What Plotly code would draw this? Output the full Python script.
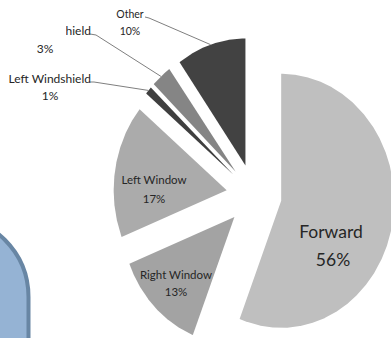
import numpy as np
import plotly.graph_objects as go

# ---- data -------------------------------------------------------------
categories = ["Forward", "Right Window", "Left Window",
              "Left Windshield", "Right Windshield", "Other"]
shares = [56, 13, 17, 1, 3, 10]
pct_labels = ["56%", "13%", "17%", "1%", "3%", "10%"]

# ---- styling ------------------------------------------------------------
W, H = 391, 338
CX, CY = 254.0, 195.0      # pie centre in pixels
RX, RY = 113.0, 127.0      # pixels per unit radius (horizontal / vertical)
PULL = 0.245               # explode distance, fraction of radius
fills = ["#bfbfbf", "#a3a3a3", "#ababab", "#3f3f3f", "#858585", "#424242"]
TEXT = "#262626"
FONT = "Lato"

# label anchors (pixels): name position, percent position, font size, align
label_style = {
    "Forward":          ((331, 234), (333, 262), 17.5, "middle center"),
    "Right Window":     ((176, 276), (176, 293), 11.5, "middle center"),
    "Left Window":      ((154, 181), (154, 200), 11.5, "middle center"),
    "Left Windshield":  ((91, 80), (50, 97), 12, "middle left"),
    "Right Windshield": ((91, 32), (45, 50), 12, "middle left"),
    "Other":            ((130, 15), (130, 32), 10.5, "middle center"),
}
# leader lines start next to their labels (pixels)
leader_start = {
    "Left Windshield":  [(90, 82), (94, 82)],
    "Right Windshield": [(90, 34), (96, 35)],
    "Other":            [(145, 17), (149, 18)],
}


def to_data(px, py):
    return (px - CX) / RX, (CY - py) / RY


def to_paper(px, py):
    return px / W, 1 - py / H


fig = go.Figure()

# ---- exploded wedges ------------------------------------------------------
total = float(sum(shares))
start = 0.0
arc_mid = {}
for name, val, col in zip(categories, shares, fills):
    sweep = 360.0 * val / total
    a0, a1 = np.radians(start), np.radians(start + sweep)
    mid = 0.5 * (a0 + a1)
    vx, vy = PULL * np.sin(mid), PULL * np.cos(mid)
    t = np.linspace(a0, a1, max(10, int(sweep * 3)))
    xs = np.concatenate([[vx], vx + np.sin(t), [vx]])
    ys = np.concatenate([[vy], vy + np.cos(t), [vy]])
    fig.add_trace(go.Scatter(
        x=xs, y=ys, mode="lines", fill="toself", fillcolor=col,
        line=dict(width=0, color=col), hoverinfo="skip", showlegend=False))
    arc_mid[name] = (vx + np.sin(mid), vy + np.cos(mid))
    start += sweep

# ---- leader lines -----------------------------------------------------------
for name, pts in leader_start.items():
    dpts = [to_data(*p) for p in pts] + [arc_mid[name]]
    fig.add_trace(go.Scatter(
        x=[p[0] for p in dpts], y=[p[1] for p in dpts], mode="lines",
        line=dict(color="#7f7f7f", width=1), hoverinfo="skip",
        showlegend=False))

# ---- data labels --------------------------------------------------------------
for name, pct in zip(categories, pct_labels):
    (nxy, pxy, size, pos) = label_style[name]
    nx, ny = to_data(*nxy)
    qx, qy = to_data(*pxy)
    fig.add_trace(go.Scatter(
        x=[nx], y=[ny], mode="text", text=[name], textposition=pos,
        textfont=dict(family=FONT, size=size, color=TEXT),
        hoverinfo="skip", showlegend=False))
    fig.add_trace(go.Scatter(
        x=[qx], y=[qy], mode="text", text=[pct], textposition="middle center",
        textfont=dict(family=FONT, size=size, color=TEXT),
        hoverinfo="skip", showlegend=False))

# ---- slide furniture: white text box at top-left, blue panel at bottom-left ----
x0, y0 = to_paper(-5, -5)
x1, y1 = to_paper(66, 42)
shapes = [dict(type="rect", xref="paper", yref="paper", x0=x0, y0=y1, x1=x1, y1=y0,
               fillcolor="white", line=dict(width=0), layer="above")]

right, top, r = 28.5, 216.0, 81.0
k = 0.5523 * r
pts = [(-30, top), (right - r, top),
       (right - r + k, top), (right, top + r - k), (right, top + r),
       (right, H + 20), (-30, H + 20)]
pp = [to_paper(*p) for p in pts]
path = ("M {0[0]:.4f},{0[1]:.4f} L {1[0]:.4f},{1[1]:.4f} "
        "C {2[0]:.4f},{2[1]:.4f} {3[0]:.4f},{3[1]:.4f} {4[0]:.4f},{4[1]:.4f} "
        "L {5[0]:.4f},{5[1]:.4f} L {6[0]:.4f},{6[1]:.4f} Z").format(*pp)
shapes.append(dict(type="path", xref="paper", yref="paper", path=path,
                   fillcolor="#95b3d4", line=dict(color="#6886a4", width=4),
                   layer="above"))

xr = [to_data(0, 0)[0], to_data(W, 0)[0]]
yr = [to_data(0, H)[1], to_data(0, 0)[1]]
fig.update_layout(
    width=W, height=H, autosize=False,
    margin=dict(l=0, r=0, t=0, b=0, pad=0),
    paper_bgcolor="white", plot_bgcolor="white",
    xaxis=dict(range=xr, visible=False, fixedrange=True),
    yaxis=dict(range=yr, visible=False, fixedrange=True),
    shapes=shapes, showlegend=False,
)

fig.write_html("out.html", config={"displayModeBar": False})
